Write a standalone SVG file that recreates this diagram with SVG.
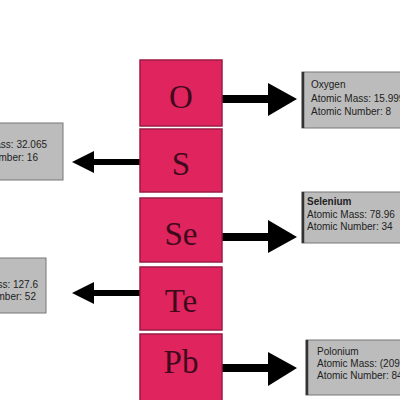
<svg xmlns="http://www.w3.org/2000/svg" width="400" height="400" viewBox="0 0 400 400">
<defs>
<style>
.el{fill:#e0245e;stroke:#9c1a44;stroke-width:1.5}
.sym{font-family:"Liberation Serif",serif;font-size:33px;fill:#3f0a1c;text-anchor:middle}
.info{fill:#bcbcbc;stroke:#777;stroke-width:1}
.edge{stroke:#333;stroke-width:2.5}
.t{font-family:"Liberation Sans",Arial,sans-serif;font-size:10px;fill:#222}
.tb{font-weight:bold}
.shaft{stroke:#000;stroke-width:8}
.head{fill:#000}
</style>
</defs>
<rect width="400" height="400" fill="#fff"/>
<g id="connectors">
  <line class="shaft" x1="222" y1="99" x2="270" y2="99"/>
  <polygon class="head" points="268,83 297,99 268,116"/>
  <line class="shaft" x1="140" y1="162" x2="92" y2="162" style="stroke-width:6"/>
  <polygon class="head" points="94,151 72,162 94,173"/>
  <line class="shaft" x1="222" y1="237" x2="270" y2="237"/>
  <polygon class="head" points="268,220 297,237 268,253"/>
  <line class="shaft" x1="140" y1="293" x2="92" y2="293" style="stroke-width:6"/>
  <polygon class="head" points="94,282 72,293 94,304"/>
  <line class="shaft" x1="222" y1="368" x2="270" y2="368"/>
  <polygon class="head" points="268,352 297,368 268,386"/>
</g>
<g id="O"><rect class="el" x="140" y="60" width="82" height="66"/><text class="sym" x="181" y="108">O</text></g>
<g id="S"><rect class="el" x="140" y="129" width="82" height="63"/><text class="sym" x="181" y="175">S</text></g>
<g id="Se"><rect class="el" x="140" y="198" width="82" height="64"/><text class="sym" x="181" y="245">Se</text></g>
<g id="Te"><rect class="el" x="140" y="267" width="82" height="63"/><text class="sym" x="181" y="312">Te</text></g>
<g id="Pb"><rect class="el" x="140" y="334" width="82" height="68"/><text class="sym" x="181" y="373">Pb</text></g>
<g id="info-O">
  <rect class="info" x="302" y="72" width="102" height="56"/>
  <line class="edge" x1="303" y1="72" x2="303" y2="128"/>
  <text class="t" x="311" y="88">Oxygen</text>
  <text class="t" x="311" y="102">Atomic Mass: 15.999</text>
  <text class="t" x="311" y="115">Atomic Number: 8</text>
</g>
<g id="info-S">
  <rect class="info" x="-4" y="123" width="67" height="57"/>
  <text class="t" x="47" y="148" text-anchor="end">Atomic Mass: 32.065</text>
  <text class="t" x="38" y="161" text-anchor="end">Atomic Number: 16</text>
</g>
<g id="info-Se">
  <rect class="info" x="302" y="192" width="102" height="51"/>
  <line class="edge" x1="303" y1="192" x2="303" y2="243"/>
  <text class="t tb" x="307" y="205">Selenium</text>
  <text class="t" x="307" y="218">Atomic Mass: 78.96</text>
  <text class="t" x="307" y="230">Atomic Number: 34</text>
</g>
<g id="info-Te">
  <rect class="info" x="-4" y="258" width="50" height="55"/>
  <text class="t" x="38" y="288" text-anchor="end">Atomic Mass: 127.6</text>
  <text class="t" x="36" y="300" text-anchor="end">Atomic Number: 52</text>
</g>
<g id="info-Pb">
  <rect class="info" x="306" y="340" width="98" height="55"/>
  <line class="edge" x1="307" y1="340" x2="307" y2="395"/>
  <text class="t" x="317" y="355">Polonium</text>
  <text class="t" x="317" y="367">Atomic Mass: (209)</text>
  <text class="t" x="317" y="379">Atomic Number: 84</text>
</g>
</svg>
